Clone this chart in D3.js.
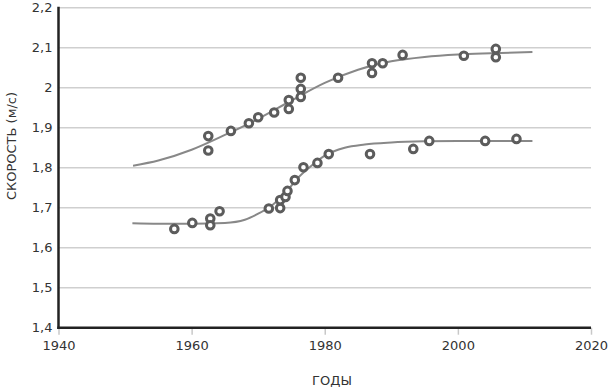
<!DOCTYPE html>
<html><head><meta charset="utf-8">
<script src="https://cdn.jsdelivr.net/npm/d3@7"></script>
<style>body{margin:0;background:#fff}svg{display:block}text{font-family:"DejaVu Sans",sans-serif}</style>
</head><body><svg id="c" width="613" height="391"></svg>
<script>
const xTicks = [1940, 1960, 1980, 2000, 2020];
const yTicks = [1.4, 1.5, 1.6, 1.7, 1.8, 1.9, 2.0, 2.1, 2.2];
const yTickLabels = ["1,4","1,5","1,6","1,7","1,8","1,9","2","2,1","2,2"];

const upperYears = [1962.5,1962.5,1965.9,1968.6,1970.0,1972.4,1974.6,1974.6,1976.4,1976.4,1976.4,1982.0,1987.1,1987.1,1988.7,1991.7,2000.9,2005.7,2005.7];
const upperSpeeds = [1.879,1.843,1.892,1.911,1.926,1.938,1.969,1.947,2.025,1.997,1.977,2.025,2.061,2.037,2.061,2.082,2.080,2.097,2.076];

const lowerYears = [1957.4,1960.1,1962.8,1962.8,1964.2,1971.6,1973.3,1973.3,1974.1,1974.4,1975.5,1976.8,1978.9,1980.6,1986.8,1993.3,1995.7,2004.1,2008.8];
const lowerSpeeds = [1.647,1.662,1.673,1.656,1.691,1.698,1.719,1.699,1.727,1.742,1.769,1.801,1.812,1.834,1.834,1.847,1.867,1.867,1.872];

const upperFitYears = [1951.2,1955,1960,1965,1970,1975,1980,1985,1990,1995,2000,2005,2011.2];
const upperFitSpeeds = [1.805,1.818,1.845,1.882,1.922,1.968,2.012,2.045,2.066,2.077,2.083,2.086,2.089];

const lowerFitYears = [1951.1,1955,1960,1965,1968,1970,1972,1974,1976,1978,1980,1983,1986,1990,1995,2000,2011.2];
const lowerFitSpeeds = [1.661,1.660,1.660,1.662,1.670,1.685,1.705,1.735,1.775,1.805,1.830,1.850,1.858,1.863,1.866,1.867,1.867];

const svg = d3.select("#c");
const x = d3.scaleLinear().domain([1940, 2020]).range([58.5, 591]);
const y = d3.scaleLinear().domain([1.4, 2.2]).range([327.7, 7.7]);

// gridlines
svg.append("g").selectAll("line").data(yTicks.slice(1)).join("line")
  .attr("x1", x(1940)).attr("x2", x(2020))
  .attr("y1", d => y(d)).attr("y2", d => y(d))
  .attr("stroke", "#cfcfcf").attr("stroke-width", 1.5);

// x axis
const xAxis = svg.append("g").attr("transform", `translate(0,${y(1.4)})`)
  .call(d3.axisBottom(x).tickValues(xTicks).tickFormat(d3.format("d")).tickSize(7).tickPadding(6));
xAxis.select(".domain").remove();
xAxis.selectAll(".tick line").attr("stroke", "#c8c8c8").attr("stroke-width", 1.5);
xAxis.selectAll(".tick text").attr("font-size", 13).attr("fill", "#333").attr("font-family", "DejaVu Sans");

// y axis
const yAxis = svg.append("g").attr("transform", `translate(${x(1940)},0)`)
  .call(d3.axisLeft(y).tickValues(yTicks).tickFormat((d, i) => yTickLabels[i]).tickSize(0).tickPadding(6));
yAxis.select(".domain").remove();
yAxis.selectAll(".tick text").attr("font-size", 13).attr("fill", "#333").attr("font-family", "DejaVu Sans");

// axis lines
svg.append("line").attr("x1", x(1940)).attr("x2", x(1940)).attr("y1", y(2.2) - 1).attr("y2", y(1.4) + 1.2)
  .attr("stroke", "#222").attr("stroke-width", 2.5);
svg.append("line").attr("x1", x(1940) - 1.2).attr("x2", x(2020)).attr("y1", y(1.4)).attr("y2", y(1.4))
  .attr("stroke", "#222").attr("stroke-width", 2.5);

// fit curves
const line = d3.line().x(d => x(d[0])).y(d => y(d[1])).curve(d3.curveMonotoneX);
svg.append("path").datum(upperFitYears.map((t, i) => [t, upperFitSpeeds[i]]))
  .attr("d", line).attr("fill", "none").attr("stroke", "#888").attr("stroke-width", 2);
svg.append("path").datum(lowerFitYears.map((t, i) => [t, lowerFitSpeeds[i]]))
  .attr("d", line).attr("fill", "none").attr("stroke", "#888").attr("stroke-width", 2);

// points
function drawPts(ys, vs) {
  svg.append("g").selectAll("circle").data(ys.map((t, i) => [t, vs[i]])).join("circle")
    .attr("cx", d => x(d[0])).attr("cy", d => y(d[1])).attr("r", 3.8)
    .attr("fill", "#fff").attr("stroke", "#5c5c5c").attr("stroke-width", 3);
}
drawPts(upperYears, upperSpeeds);
drawPts(lowerYears, lowerSpeeds);

// labels
svg.append("text").attr("transform", `translate(16,146) rotate(-90)`)
  .attr("text-anchor", "middle").attr("font-size", 13).attr("fill", "#333").text("СКОРОСТЬ (м/с)");
svg.append("text").attr("x", 332).attr("y", 385)
  .attr("text-anchor", "middle").attr("font-size", 13).attr("fill", "#333").text("ГОДЫ");
</script></body></html>
